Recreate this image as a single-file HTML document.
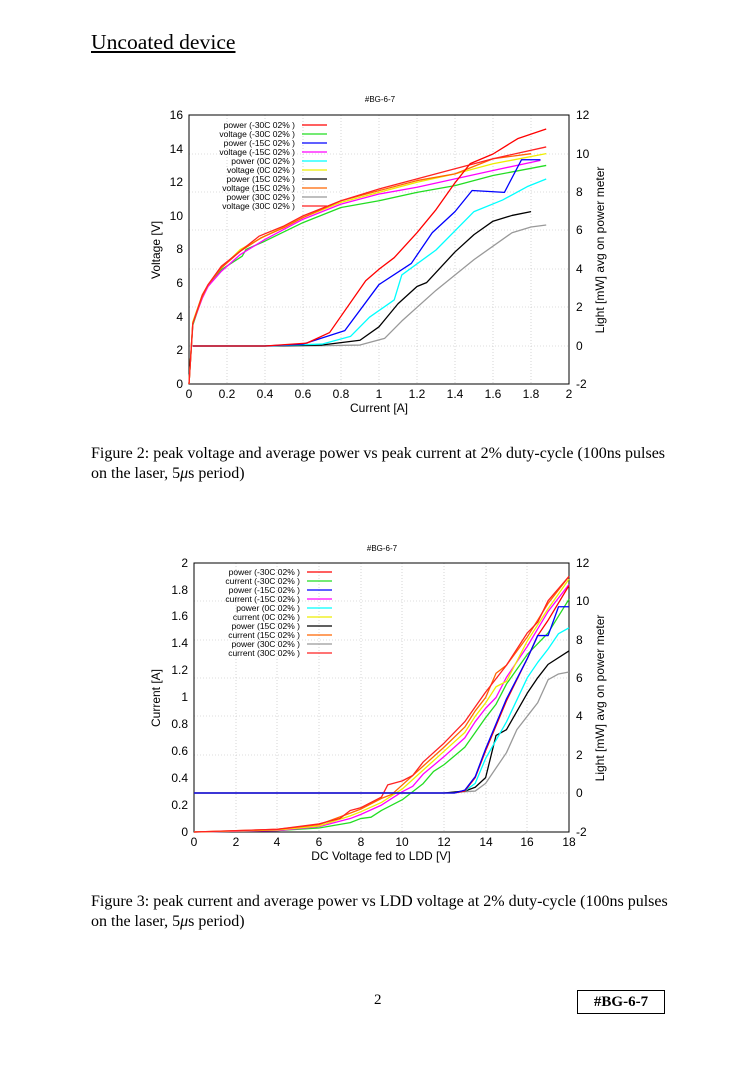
<!DOCTYPE html>
<html><head><meta charset="utf-8"><style>
html,body{margin:0;padding:0;background:#fff;}
body{width:754px;height:1067px;position:relative;overflow:hidden;font-family:"Liberation Serif",serif;}
.t{position:absolute;white-space:nowrap;color:#000;}
svg{position:absolute;left:0;top:0;}
svg text{font-family:"Liberation Sans",sans-serif;}
.d{fill:none;stroke-width:1.3;vector-effect:non-scaling-stroke;stroke-linejoin:round;}
</style></head><body>
<div class="t" style="left:91px;top:30px;font-size:21.6px;text-decoration:underline;">Uncoated device</div>
<div class="t" style="left:91px;top:444px;font-size:16px;line-height:20px;">Figure 2: peak voltage and average power vs peak current at 2% duty-cycle (100ns pulses<br>on the laser, 5<i>μ</i>s period)</div>
<div class="t" style="left:91px;top:892px;font-size:16px;line-height:20px;">Figure 3: peak current and average power vs LDD voltage at 2% duty-cycle (100ns pulses<br>on the laser, 5<i>μ</i>s period)</div>
<div class="t" style="left:374px;top:992px;font-size:15px;">2</div>
<div class="t" style="left:577px;top:990px;width:86px;height:22px;border:1px solid #000;font-size:15px;font-weight:bold;text-align:center;line-height:22px;">#BG-6-7</div>

<svg width="754" height="1067" viewBox="0 0 754 1067">
<!-- CHART 1 -->
<text x="380" y="102" font-size="8" text-anchor="middle">#BG-6-7</text>
<g stroke="#bbb" stroke-width="0.6" stroke-dasharray="1,2">
<line x1="227" y1="115" x2="227" y2="384"/><line x1="265" y1="115" x2="265" y2="384"/><line x1="303" y1="115" x2="303" y2="384"/><line x1="341" y1="115" x2="341" y2="384"/><line x1="379" y1="115" x2="379" y2="384"/><line x1="417" y1="115" x2="417" y2="384"/><line x1="455" y1="115" x2="455" y2="384"/><line x1="493" y1="115" x2="493" y2="384"/><line x1="531" y1="115" x2="531" y2="384"/>
<line x1="189" y1="154" x2="569" y2="154"/><line x1="189" y1="192" x2="569" y2="192"/><line x1="189" y1="230" x2="569" y2="230"/><line x1="189" y1="269" x2="569" y2="269"/><line x1="189" y1="307" x2="569" y2="307"/><line x1="189" y1="346" x2="569" y2="346"/>
</g>
<rect x="189" y="115" width="380" height="269" fill="none" stroke="#000" stroke-width="1"/>
<g font-size="12" text-anchor="end">
<text x="183" y="388">0</text><text x="183" y="354">2</text><text x="183" y="321">4</text><text x="183" y="287">6</text><text x="183" y="253">8</text><text x="183" y="220">10</text><text x="183" y="186">12</text><text x="183" y="153">14</text><text x="183" y="119">16</text>
</g>
<g font-size="12" text-anchor="start">
<text x="576" y="388">-2</text><text x="576" y="350">0</text><text x="576" y="311">2</text><text x="576" y="273">4</text><text x="576" y="234">6</text><text x="576" y="196">8</text><text x="576" y="158">10</text><text x="576" y="119">12</text>
</g>
<g font-size="12" text-anchor="middle">
<text x="189" y="398">0</text><text x="227" y="398">0.2</text><text x="265" y="398">0.4</text><text x="303" y="398">0.6</text><text x="341" y="398">0.8</text><text x="379" y="398">1</text><text x="417" y="398">1.2</text><text x="455" y="398">1.4</text><text x="493" y="398">1.6</text><text x="531" y="398">1.8</text><text x="569" y="398">2</text>
</g>
<text x="379" y="412" font-size="12" text-anchor="middle">Current [A]</text>
<text transform="translate(160,250) rotate(-90)" font-size="12" text-anchor="middle">Voltage [V]</text>
<text transform="translate(604,250) rotate(-90)" font-size="12" text-anchor="middle">Light [mW] avg on power meter</text>
<g font-size="8.5" text-anchor="end">
<text x="295" y="128">power (-30C 02% )</text><text x="295" y="137">voltage (-30C 02% )</text><text x="295" y="146">power (-15C 02% )</text><text x="295" y="155">voltage (-15C 02% )</text><text x="295" y="164">power (0C 02% )</text><text x="295" y="173">voltage (0C 02% )</text><text x="295" y="182">power (15C 02% )</text><text x="295" y="191">voltage (15C 02% )</text><text x="295" y="200">power (30C 02% )</text><text x="295" y="209">voltage (30C 02% )</text>
</g>
<g stroke-width="1.3">
<line x1="302" y1="125" x2="327" y2="125" stroke="#f00"/><line x1="302" y1="134" x2="327" y2="134" stroke="#2d2"/><line x1="302" y1="143" x2="327" y2="143" stroke="#00f"/><line x1="302" y1="152" x2="327" y2="152" stroke="#f0f"/><line x1="302" y1="161" x2="327" y2="161" stroke="#0ff"/><line x1="302" y1="170" x2="327" y2="170" stroke="#ee0"/><line x1="302" y1="179" x2="327" y2="179" stroke="#000"/><line x1="302" y1="188" x2="327" y2="188" stroke="#f60"/><line x1="302" y1="197" x2="327" y2="197" stroke="#999"/><line x1="302" y1="206" x2="327" y2="206" stroke="#f22"/>
</g>
<g transform="translate(189,384) scale(190,-16.8125)">
<polyline class="d" stroke="#2d2" points="0,0 0.02,3.5 0.07,5.2 0.1,5.8 0.17,6.8 0.28,7.6 0.3,8.0 0.4,8.5 0.6,9.6 0.8,10.5 1.0,10.9 1.2,11.4 1.4,11.8 1.6,12.4 1.88,13.0"/>
<polyline class="d" stroke="#f0f" points="0,0 0.02,3.6 0.07,5.1 0.1,5.8 0.17,6.7 0.27,7.7 0.4,8.6 0.6,9.8 0.8,10.7 1.0,11.3 1.2,11.7 1.4,12.2 1.6,12.7 1.85,13.3"/>
<polyline class="d" stroke="#ee0" points="0,0 0.02,3.7 0.07,5.3 0.1,5.9 0.17,6.9 0.27,8.0 0.4,8.8 0.6,9.9 0.8,10.8 1.0,11.4 1.2,12.0 1.4,12.5 1.6,13.1 1.88,13.7"/>
<polyline class="d" stroke="#f60" points="0,0 0.02,3.6 0.07,5.2 0.1,5.9 0.17,6.9 0.27,7.9 0.38,8.7 0.5,9.3 0.6,9.9 0.8,10.9 1.0,11.5 1.2,12.1 1.4,12.5 1.6,13.4 1.8,13.7"/>
<polyline class="d" stroke="#f22" points="0,0 0.02,3.6 0.07,5.3 0.1,5.9 0.17,7.0 0.27,7.9 0.37,8.8 0.5,9.4 0.6,10.0 0.8,10.9 1.0,11.6 1.2,12.2 1.4,12.8 1.6,13.4 1.88,14.1"/>
</g>
<g transform="translate(189,346) scale(190,-19.2)">
<polyline class="d" stroke="#999" points="0.02,0 0.4,0 0.6,0 0.9,0.05 1.03,0.4 1.12,1.3 1.3,2.9 1.5,4.5 1.7,5.9 1.8,6.2 1.88,6.3"/>
<polyline class="d" stroke="#000" points="0.02,0 0.4,0 0.7,0.05 0.9,0.3 1.0,1.0 1.1,2.2 1.2,3.1 1.25,3.3 1.4,4.9 1.5,5.8 1.6,6.5 1.7,6.8 1.8,7.0"/>
<polyline class="d" stroke="#0ff" points="0.02,0 0.4,0 0.7,0.1 0.85,0.5 0.95,1.5 1.08,2.4 1.12,3.7 1.3,5.0 1.4,6.0 1.5,7.0 1.65,7.6 1.78,8.3 1.88,8.7"/>
<polyline class="d" stroke="#00f" points="0.02,0 0.4,0 0.6,0.1 0.82,0.8 1.0,3.2 1.17,4.3 1.28,5.9 1.4,7.0 1.49,8.1 1.66,8.0 1.75,9.7 1.85,9.7"/>
<polyline class="d" stroke="#f00" points="0.02,0 0.4,0 0.62,0.15 0.74,0.7 0.93,3.4 1.0,4.0 1.08,4.6 1.2,5.9 1.3,7.1 1.4,8.5 1.48,9.5 1.6,10.0 1.73,10.8 1.88,11.3"/>
</g>

<!-- CHART 2 -->
<text x="382" y="551" font-size="8" text-anchor="middle">#BG-6-7</text>
<g stroke="#bbb" stroke-width="0.6" stroke-dasharray="1,2">
<line x1="236" y1="563" x2="236" y2="832"/><line x1="277" y1="563" x2="277" y2="832"/><line x1="319" y1="563" x2="319" y2="832"/><line x1="361" y1="563" x2="361" y2="832"/><line x1="402" y1="563" x2="402" y2="832"/><line x1="444" y1="563" x2="444" y2="832"/><line x1="486" y1="563" x2="486" y2="832"/><line x1="527" y1="563" x2="527" y2="832"/>
<line x1="194" y1="601" x2="569" y2="601"/><line x1="194" y1="640" x2="569" y2="640"/><line x1="194" y1="678" x2="569" y2="678"/><line x1="194" y1="716" x2="569" y2="716"/><line x1="194" y1="755" x2="569" y2="755"/><line x1="194" y1="793" x2="569" y2="793"/>
</g>
<rect x="194" y="563" width="375" height="269" fill="none" stroke="#000" stroke-width="1"/>
<g font-size="12" text-anchor="end">
<text x="188" y="836">0</text><text x="188" y="809">0.2</text><text x="188" y="782">0.4</text><text x="188" y="755">0.6</text><text x="188" y="728">0.8</text><text x="188" y="701">1</text><text x="188" y="674">1.2</text><text x="188" y="647">1.4</text><text x="188" y="620">1.6</text><text x="188" y="594">1.8</text><text x="188" y="567">2</text>
</g>
<g font-size="12" text-anchor="start">
<text x="576" y="836">-2</text><text x="576" y="797">0</text><text x="576" y="759">2</text><text x="576" y="720">4</text><text x="576" y="682">6</text><text x="576" y="644">8</text><text x="576" y="605">10</text><text x="576" y="567">12</text>
</g>
<g font-size="12" text-anchor="middle">
<text x="194" y="846">0</text><text x="236" y="846">2</text><text x="277" y="846">4</text><text x="319" y="846">6</text><text x="361" y="846">8</text><text x="402" y="846">10</text><text x="444" y="846">12</text><text x="486" y="846">14</text><text x="527" y="846">16</text><text x="569" y="846">18</text>
</g>
<text x="381" y="860" font-size="12" text-anchor="middle">DC Voltage fed to LDD [V]</text>
<text transform="translate(160,698) rotate(-90)" font-size="12" text-anchor="middle">Current [A]</text>
<text transform="translate(604,698) rotate(-90)" font-size="12" text-anchor="middle">Light [mW] avg on power meter</text>
<g font-size="8.5" text-anchor="end">
<text x="300" y="575">power (-30C 02% )</text><text x="300" y="584">current (-30C 02% )</text><text x="300" y="593">power (-15C 02% )</text><text x="300" y="602">current (-15C 02% )</text><text x="300" y="611">power (0C 02% )</text><text x="300" y="620">current (0C 02% )</text><text x="300" y="629">power (15C 02% )</text><text x="300" y="638">current (15C 02% )</text><text x="300" y="647">power (30C 02% )</text><text x="300" y="656">current (30C 02% )</text>
</g>
<g stroke-width="1.3">
<line x1="307" y1="572" x2="332" y2="572" stroke="#f00"/><line x1="307" y1="581" x2="332" y2="581" stroke="#2d2"/><line x1="307" y1="590" x2="332" y2="590" stroke="#00f"/><line x1="307" y1="599" x2="332" y2="599" stroke="#f0f"/><line x1="307" y1="608" x2="332" y2="608" stroke="#0ff"/><line x1="307" y1="617" x2="332" y2="617" stroke="#ee0"/><line x1="307" y1="626" x2="332" y2="626" stroke="#000"/><line x1="307" y1="635" x2="332" y2="635" stroke="#f60"/><line x1="307" y1="644" x2="332" y2="644" stroke="#999"/><line x1="307" y1="653" x2="332" y2="653" stroke="#f22"/>
</g>
<g transform="translate(194,832) scale(20.83,-134.5)">
<polyline class="d" stroke="#2d2" points="0,0 4,0.01 6,0.03 7.5,0.07 8,0.1 8.5,0.11 9,0.16 10,0.24 11,0.36 11.5,0.45 12,0.5 13,0.63 13.5,0.74 14,0.85 14.5,0.95 15,1.1 16,1.32 16.5,1.4 17,1.48 18,1.73"/>
<polyline class="d" stroke="#f0f" points="0,0 4,0.01 6,0.04 7.5,0.1 8,0.13 9,0.2 10,0.3 10.5,0.34 11,0.43 12,0.56 13,0.7 13.5,0.82 14,0.92 14.5,1.0 15,1.15 16,1.38 17,1.64 18,1.84"/>
<polyline class="d" stroke="#ee0" points="0,0 4,0.015 6,0.045 7.5,0.12 8,0.15 9,0.22 10,0.32 11,0.46 12,0.6 13,0.74 13.5,0.86 14,0.96 14.5,1.08 15,1.12 16,1.42 17,1.66 18,1.88"/>
<polyline class="d" stroke="#f60" points="0,0 4,0.02 6,0.055 7.5,0.14 8,0.17 9,0.25 9.5,0.28 10,0.35 11,0.49 12,0.63 13,0.78 13.5,0.9 14,1.0 14.5,1.18 15,1.24 16,1.45 17,1.7 18,1.9"/>
<polyline class="d" stroke="#f22" points="0,0 4,0.02 6,0.06 7,0.1 7.5,0.16 8,0.18 9,0.26 9.3,0.35 10,0.38 10.5,0.42 11,0.52 12,0.66 13,0.82 13.5,0.93 14,1.04 15,1.24 16,1.48 16.5,1.56 17,1.72 18,1.9"/>
</g>
<g transform="translate(194,793) scale(20.83,-19.2)">
<polyline class="d" stroke="#999" points="0,0 12,0 13.5,0.1 14,0.5 14.5,1.3 15,2.1 15.5,3.3 16,4.0 16.5,4.7 17,5.9 17.5,6.2 18,6.3"/>
<polyline class="d" stroke="#000" points="0,0 12,0 13,0.1 13.5,0.3 14,0.8 14.5,3.0 15,3.3 16,5.2 16.5,6.0 17,6.7 18,7.4"/>
<polyline class="d" stroke="#0ff" points="0,0 12.5,0 13,0.1 13.5,0.5 14,1.8 15,3.7 16,6.0 16.5,6.8 17,7.5 17.5,8.3 18,8.6"/>
<polyline class="d" stroke="#f00" points="0,0 12.5,0 13,0.1 13.5,0.8 14,2.2 14.5,3.5 15,4.8 16,7.0 16.5,8.2 17,9.0 18,10.8"/>
<polyline class="d" stroke="#00f" points="0,0 12.5,0 13,0.15 13.5,0.85 14,2.3 14.5,3.6 15,4.9 16,7.0 16.5,8.2 17,8.2 17.5,9.7 18,9.7"/>
</g>
</svg>
</body></html>
